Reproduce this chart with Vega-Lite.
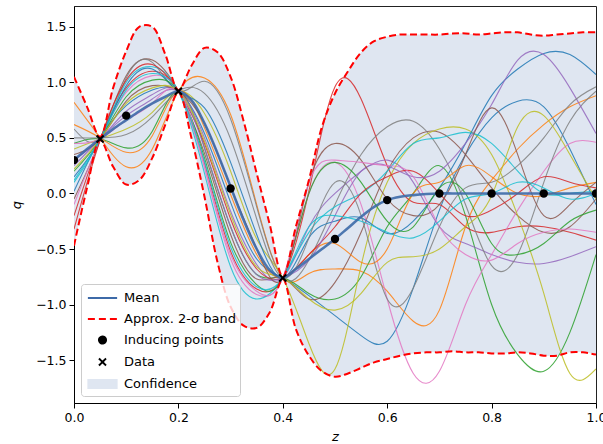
{
"$schema": "https://vega.github.io/schema/vega-lite/v6.json",
"width": 522, "height": 397,
"autosize": {"type": "none"},
"padding": {"left": 74, "top": 6, "right": 7, "bottom": 41},
"background": "white",
"config": {"view": {"stroke": "#222222", "strokeWidth": 1}, "font": "DejaVu Sans"},
"datasets": {
"band": [
{"z":0,"m":0.30,"u":1.05,"l":-0.47},{"z":0.025,"m":0.40,"u":0.78,"l":0.05},{"z":0.05,"m":0.49,"u":0.51,"l":0.48},{"z":0.075,"m":0.58,"u":0.95,"l":0.24},{"z":0.1,"m":0.66,"u":1.28,"l":0.08},{"z":0.125,"m":0.74,"u":1.50,"l":0.12},{"z":0.15,"m":0.81,"u":1.50,"l":0.32},{"z":0.175,"m":0.87,"u":1.25,"l":0.62},{"z":0.2,"m":0.92,"u":0.93,"l":0.91},{"z":0.225,"m":0.84,"u":1.15,"l":0.50},{"z":0.25,"m":0.63,"u":1.31,"l":-0.03},{"z":0.275,"m":0.36,"u":1.27,"l":-0.62},{"z":0.3,"m":0.06,"u":1.05,"l":-1.02},{"z":0.325,"m":-0.24,"u":0.65,"l":-1.19},{"z":0.35,"m":-0.50,"u":0.18,"l":-1.21},{"z":0.375,"m":-0.69,"u":-0.28,"l":-1.07},{"z":0.4,"m":-0.76,"u":-0.75,"l":-0.77},{"z":0.425,"m":-0.68,"u":-0.30,"l":-1.22},{"z":0.45,"m":-0.59,"u":0.12,"l":-1.46},{"z":0.475,"m":-0.50,"u":0.60,"l":-1.60},{"z":0.5,"m":-0.41,"u":0.90,"l":-1.65},{"z":0.525,"m":-0.31,"u":1.10,"l":-1.62},{"z":0.55,"m":-0.21,"u":1.27,"l":-1.57},{"z":0.575,"m":-0.12,"u":1.37,"l":-1.52},{"z":0.6,"m":-0.06,"u":1.41,"l":-1.49},{"z":0.625,"m":-0.03,"u":1.43,"l":-1.46},{"z":0.65,"m":-0.015,"u":1.43,"l":-1.44},{"z":0.675,"m":-0.005,"u":1.43,"l":-1.43},{"z":0.7,"m":0,"u":1.43,"l":-1.43},{"z":0.725,"m":0,"u":1.44,"l":-1.42},{"z":0.75,"m":0,"u":1.44,"l":-1.43},{"z":0.775,"m":0,"u":1.43,"l":-1.43},{"z":0.8,"m":0,"u":1.44,"l":-1.44},{"z":0.825,"m":0,"u":1.45,"l":-1.44},{"z":0.85,"m":0,"u":1.45,"l":-1.43},{"z":0.875,"m":0,"u":1.43,"l":-1.44},{"z":0.9,"m":0,"u":1.42,"l":-1.46},{"z":0.925,"m":0,"u":1.43,"l":-1.46},{"z":0.95,"m":0,"u":1.44,"l":-1.43},{"z":0.975,"m":0,"u":1.45,"l":-1.43},{"z":1,"m":0,"u":1.45,"l":-1.45}
],
"samples": [
{"s":1,"z":0,"q":0.02},{"s":1,"z":0.05,"q":0.49},{"s":1,"z":0.1,"q":0.79},{"s":1,"z":0.15,"q":0.93},{"s":1,"z":0.2,"q":0.92},{"s":1,"z":0.25,"q":0.54},{"s":1,"z":0.3,"q":-0.08},{"s":1,"z":0.35,"q":-0.59},{"s":1,"z":0.4,"q":-0.76},{"s":1,"z":0.45,"q":-0.92},{"s":1,"z":0.5,"q":-1.10},{"s":1,"z":0.55,"q":-1.28},{"s":1,"z":0.6,"q":-1.33},{"s":1,"z":0.65,"q":-0.85},{"s":1,"z":0.7,"q":-0.15},{"s":1,"z":0.75,"q":0.35},{"s":1,"z":0.8,"q":0.68},{"s":1,"z":0.85,"q":0.83},{"s":1,"z":0.9,"q":0.78},{"s":1,"z":0.95,"q":0.40},{"s":1,"z":1,"q":-0.10},
{"s":2,"z":0,"q":0.82},{"s":2,"z":0.05,"q":0.50},{"s":2,"z":0.1,"q":0.24},{"s":2,"z":0.15,"q":0.40},{"s":2,"z":0.2,"q":0.92},{"s":2,"z":0.25,"q":1.04},{"s":2,"z":0.3,"q":0.71},{"s":2,"z":0.35,"q":-0.10},{"s":2,"z":0.4,"q":-0.76},{"s":2,"z":0.45,"q":-0.72},{"s":2,"z":0.5,"q":-0.68},{"s":2,"z":0.55,"q":-0.70},{"s":2,"z":0.6,"q":-0.88},{"s":2,"z":0.65,"q":-1.15},{"s":2,"z":0.7,"q":-1.05},{"s":2,"z":0.75,"q":-0.30},{"s":2,"z":0.8,"q":0.12},{"s":2,"z":0.85,"q":0.40},{"s":2,"z":0.9,"q":0.62},{"s":2,"z":0.95,"q":0.78},{"s":2,"z":1,"q":0.88},
{"s":3,"z":0,"q":0.45},{"s":3,"z":0.05,"q":0.49},{"s":3,"z":0.1,"q":0.41},{"s":3,"z":0.15,"q":0.56},{"s":3,"z":0.2,"q":0.92},{"s":3,"z":0.25,"q":0.41},{"s":3,"z":0.3,"q":-0.30},{"s":3,"z":0.35,"q":-0.73},{"s":3,"z":0.4,"q":-0.76},{"s":3,"z":0.45,"q":-0.90},{"s":3,"z":0.5,"q":-0.95},{"s":3,"z":0.55,"q":-0.75},{"s":3,"z":0.6,"q":-0.30},{"s":3,"z":0.65,"q":0.00},{"s":3,"z":0.7,"q":0.25},{"s":3,"z":0.75,"q":-0.20},{"s":3,"z":0.8,"q":-1.00},{"s":3,"z":0.85,"q":-1.45},{"s":3,"z":0.9,"q":-1.60},{"s":3,"z":0.95,"q":-1.25},{"s":3,"z":1,"q":-0.55},
{"s":4,"z":0,"q":-0.20},{"s":4,"z":0.05,"q":0.48},{"s":4,"z":0.1,"q":0.95},{"s":4,"z":0.15,"q":1.10},{"s":4,"z":0.2,"q":0.92},{"s":4,"z":0.25,"q":0.27},{"s":4,"z":0.3,"q":-0.52},{"s":4,"z":0.35,"q":-0.86},{"s":4,"z":0.4,"q":-0.76},{"s":4,"z":0.45,"q":0.02},{"s":4,"z":0.5,"q":0.96},{"s":4,"z":0.55,"q":0.85},{"s":4,"z":0.6,"q":0.25},{"s":4,"z":0.65,"q":-0.08},{"s":4,"z":0.7,"q":-0.10},{"s":4,"z":0.75,"q":-0.30},{"s":4,"z":0.8,"q":-0.35},{"s":4,"z":0.85,"q":-0.30},{"s":4,"z":0.9,"q":-0.30},{"s":4,"z":0.95,"q":-0.35},{"s":4,"z":1,"q":-0.42},
{"s":5,"z":0,"q":0.25},{"s":5,"z":0.05,"q":0.49},{"s":5,"z":0.1,"q":0.70},{"s":5,"z":0.15,"q":0.85},{"s":5,"z":0.2,"q":0.92},{"s":5,"z":0.25,"q":0.50},{"s":5,"z":0.3,"q":-0.16},{"s":5,"z":0.35,"q":-0.64},{"s":5,"z":0.4,"q":-0.76},{"s":5,"z":0.45,"q":-0.30},{"s":5,"z":0.5,"q":0.00},{"s":5,"z":0.55,"q":0.20},{"s":5,"z":0.6,"q":0.30},{"s":5,"z":0.65,"q":0.10},{"s":5,"z":0.7,"q":-0.30},{"s":5,"z":0.75,"q":-0.45},{"s":5,"z":0.8,"q":-0.55},{"s":5,"z":0.85,"q":-0.62},{"s":5,"z":0.9,"q":-0.63},{"s":5,"z":0.95,"q":-0.57},{"s":5,"z":1,"q":-0.48},
{"s":6,"z":0,"q":-0.05},{"s":6,"z":0.05,"q":0.48},{"s":6,"z":0.1,"q":1.06},{"s":6,"z":0.15,"q":1.20},{"s":6,"z":0.2,"q":0.92},{"s":6,"z":0.25,"q":0.36},{"s":6,"z":0.3,"q":-0.37},{"s":6,"z":0.35,"q":-0.77},{"s":6,"z":0.4,"q":-0.76},{"s":6,"z":0.45,"q":-0.95},{"s":6,"z":0.5,"q":-0.80},{"s":6,"z":0.55,"q":-0.35},{"s":6,"z":0.6,"q":0.20},{"s":6,"z":0.65,"q":0.50},{"s":6,"z":0.7,"q":0.55},{"s":6,"z":0.75,"q":0.35},{"s":6,"z":0.8,"q":0.05},{"s":6,"z":0.85,"q":-0.20},{"s":6,"z":0.9,"q":-0.35},{"s":6,"z":0.95,"q":-0.30},{"s":6,"z":1,"q":-0.05},
{"s":7,"z":0,"q":-0.10},{"s":7,"z":0.05,"q":0.48},{"s":7,"z":0.1,"q":0.91},{"s":7,"z":0.15,"q":1.06},{"s":7,"z":0.2,"q":0.92},{"s":7,"z":0.25,"q":0.23},{"s":7,"z":0.3,"q":-0.59},{"s":7,"z":0.35,"q":-0.91},{"s":7,"z":0.4,"q":-0.76},{"s":7,"z":0.45,"q":0.00},{"s":7,"z":0.5,"q":0.28},{"s":7,"z":0.55,"q":-0.10},{"s":7,"z":0.6,"q":-0.95},{"s":7,"z":0.65,"q":-1.62},{"s":7,"z":0.7,"q":-1.60},{"s":7,"z":0.75,"q":-1.00},{"s":7,"z":0.8,"q":-0.55},{"s":7,"z":0.85,"q":-0.15},{"s":7,"z":0.9,"q":0.20},{"s":7,"z":0.95,"q":0.45},{"s":7,"z":1,"q":0.46},
{"s":8,"z":0,"q":0.58},{"s":8,"z":0.05,"q":0.50},{"s":8,"z":0.1,"q":1.04},{"s":8,"z":0.15,"q":1.18},{"s":8,"z":0.2,"q":0.92},{"s":8,"z":0.25,"q":1.01},{"s":8,"z":0.3,"q":0.67},{"s":8,"z":0.35,"q":-0.12},{"s":8,"z":0.4,"q":-0.76},{"s":8,"z":0.45,"q":-0.60},{"s":8,"z":0.5,"q":-0.10},{"s":8,"z":0.55,"q":0.35},{"s":8,"z":0.6,"q":0.60},{"s":8,"z":0.65,"q":0.65},{"s":8,"z":0.7,"q":0.40},{"s":8,"z":0.75,"q":-0.10},{"s":8,"z":0.8,"q":-0.65},{"s":8,"z":0.85,"q":-0.55},{"s":8,"z":0.9,"q":0.10},{"s":8,"z":0.95,"q":0.65},{"s":8,"z":1,"q":0.92},
{"s":9,"z":0,"q":0.40},{"s":9,"z":0.05,"q":0.49},{"s":9,"z":0.1,"q":0.58},{"s":9,"z":0.15,"q":0.73},{"s":9,"z":0.2,"q":0.92},{"s":9,"z":0.25,"q":0.72},{"s":9,"z":0.3,"q":0.20},{"s":9,"z":0.35,"q":-0.41},{"s":9,"z":0.4,"q":-0.76},{"s":9,"z":0.45,"q":-1.35},{"s":9,"z":0.5,"q":-1.58},{"s":9,"z":0.55,"q":-0.65},{"s":9,"z":0.6,"q":0.10},{"s":9,"z":0.65,"q":0.45},{"s":9,"z":0.7,"q":0.58},{"s":9,"z":0.75,"q":0.58},{"s":9,"z":0.8,"q":0.35},{"s":9,"z":0.85,"q":-0.20},{"s":9,"z":0.9,"q":-0.90},{"s":9,"z":0.95,"q":-1.62},{"s":9,"z":1,"q":-1.58},
{"s":10,"z":0,"q":0.10},{"s":10,"z":0.05,"q":0.49},{"s":10,"z":0.1,"q":1.00},{"s":10,"z":0.15,"q":1.14},{"s":10,"z":0.2,"q":0.92},{"s":10,"z":0.25,"q":0.18},{"s":10,"z":0.3,"q":-0.66},{"s":10,"z":0.35,"q":-0.95},{"s":10,"z":0.4,"q":-0.76},{"s":10,"z":0.45,"q":-0.35},{"s":10,"z":0.5,"q":-0.12},{"s":10,"z":0.55,"q":0.00},{"s":10,"z":0.6,"q":0.20},{"s":10,"z":0.65,"q":0.45},{"s":10,"z":0.7,"q":0.50},{"s":10,"z":0.75,"q":0.55},{"s":10,"z":0.8,"q":0.45},{"s":10,"z":0.85,"q":0.20},{"s":10,"z":0.9,"q":0.00},{"s":10,"z":0.95,"q":0.00},{"s":10,"z":1,"q":0.02},
{"s":11,"z":0,"q":0.15},{"s":11,"z":0.05,"q":0.49},{"s":11,"z":0.1,"q":0.97},{"s":11,"z":0.15,"q":1.12},{"s":11,"z":0.2,"q":0.92},{"s":11,"z":0.25,"q":0.77},{"s":11,"z":0.3,"q":0.28},{"s":11,"z":0.35,"q":-0.37},{"s":11,"z":0.4,"q":-0.76},{"s":11,"z":0.45,"q":-0.40},{"s":11,"z":0.5,"q":-0.25},{"s":11,"z":0.55,"q":-0.22},{"s":11,"z":0.6,"q":-0.36},{"s":11,"z":0.65,"q":-0.25},{"s":11,"z":0.7,"q":0.05},{"s":11,"z":0.75,"q":0.45},{"s":11,"z":0.8,"q":0.88},{"s":11,"z":0.85,"q":1.12},{"s":11,"z":0.9,"q":1.26},{"s":11,"z":0.95,"q":1.25},{"s":11,"z":1,"q":1.07},
{"s":12,"z":0,"q":0.62},{"s":12,"z":0.05,"q":0.50},{"s":12,"z":0.1,"q":0.37},{"s":12,"z":0.15,"q":0.52},{"s":12,"z":0.2,"q":0.92},{"s":12,"z":0.25,"q":0.59},{"s":12,"z":0.3,"q":-0.01},{"s":12,"z":0.35,"q":-0.55},{"s":12,"z":0.4,"q":-0.76},{"s":12,"z":0.45,"q":-0.55},{"s":12,"z":0.5,"q":-0.45},{"s":12,"z":0.55,"q":-0.62},{"s":12,"z":0.6,"q":-0.50},{"s":12,"z":0.65,"q":0.00},{"s":12,"z":0.7,"q":0.10},{"s":12,"z":0.75,"q":0.25},{"s":12,"z":0.8,"q":0.15},{"s":12,"z":0.85,"q":0.00},{"s":12,"z":0.9,"q":-0.02},{"s":12,"z":0.95,"q":0.05},{"s":12,"z":1,"q":0.10},
{"s":13,"z":0,"q":0.20},{"s":13,"z":0.05,"q":0.49},{"s":13,"z":0.1,"q":0.87},{"s":13,"z":0.15,"q":1.02},{"s":13,"z":0.2,"q":0.92},{"s":13,"z":0.25,"q":0.32},{"s":13,"z":0.3,"q":-0.44},{"s":13,"z":0.35,"q":-0.82},{"s":13,"z":0.4,"q":-0.76},{"s":13,"z":0.45,"q":0.00},{"s":13,"z":0.5,"q":0.28},{"s":13,"z":0.55,"q":0.10},{"s":13,"z":0.6,"q":-0.25},{"s":13,"z":0.65,"q":-0.30},{"s":13,"z":0.7,"q":0.05},{"s":13,"z":0.75,"q":0.00},{"s":13,"z":0.8,"q":-0.45},{"s":13,"z":0.85,"q":-0.55},{"s":13,"z":0.9,"q":-0.45},{"s":13,"z":0.95,"q":-0.25},{"s":13,"z":1,"q":-0.15},
{"s":14,"z":0,"q":-0.32},{"s":14,"z":0.05,"q":0.48},{"s":14,"z":0.1,"q":1.02},{"s":14,"z":0.15,"q":1.16},{"s":14,"z":0.2,"q":0.92},{"s":14,"z":0.25,"q":0.45},{"s":14,"z":0.3,"q":-0.23},{"s":14,"z":0.35,"q":-0.68},{"s":14,"z":0.4,"q":-0.76},{"s":14,"z":0.45,"q":-0.55},{"s":14,"z":0.5,"q":-0.30},{"s":14,"z":0.55,"q":0.00},{"s":14,"z":0.6,"q":0.15},{"s":14,"z":0.65,"q":0.20},{"s":14,"z":0.7,"q":0.00},{"s":14,"z":0.75,"q":-0.20},{"s":14,"z":0.8,"q":-0.15},{"s":14,"z":0.85,"q":0.00},{"s":14,"z":0.9,"q":0.15},{"s":14,"z":0.95,"q":0.10},{"s":14,"z":1,"q":0.05},
{"s":15,"z":0,"q":0.30},{"s":15,"z":0.05,"q":0.49},{"s":15,"z":0.1,"q":0.74},{"s":15,"z":0.15,"q":0.89},{"s":15,"z":0.2,"q":0.92},{"s":15,"z":0.25,"q":0.41},{"s":15,"z":0.3,"q":-0.30},{"s":15,"z":0.35,"q":-0.73},{"s":15,"z":0.4,"q":-0.76},{"s":15,"z":0.45,"q":-0.60},{"s":15,"z":0.5,"q":-0.20},{"s":15,"z":0.55,"q":0.20},{"s":15,"z":0.6,"q":0.25},{"s":15,"z":0.65,"q":0.15},{"s":15,"z":0.7,"q":0.20},{"s":15,"z":0.75,"q":0.45},{"s":15,"z":0.8,"q":0.80},{"s":15,"z":0.85,"q":1.20},{"s":15,"z":0.9,"q":1.25},{"s":15,"z":0.95,"q":0.95},{"s":15,"z":1,"q":0.54},
{"s":16,"z":0,"q":0.35},{"s":16,"z":0.05,"q":0.49},{"s":16,"z":0.1,"q":0.83},{"s":16,"z":0.15,"q":0.97},{"s":16,"z":0.2,"q":0.92},{"s":16,"z":0.25,"q":0.63},{"s":16,"z":0.3,"q":0.06},{"s":16,"z":0.35,"q":-0.50},{"s":16,"z":0.4,"q":-0.76},{"s":16,"z":0.45,"q":0.10},{"s":16,"z":0.5,"q":0.45},{"s":16,"z":0.55,"q":0.30},{"s":16,"z":0.6,"q":-0.05},{"s":16,"z":0.65,"q":-0.20},{"s":16,"z":0.7,"q":-0.10},{"s":16,"z":0.75,"q":0.35},{"s":16,"z":0.8,"q":0.77},{"s":16,"z":0.85,"q":0.35},{"s":16,"z":0.9,"q":-0.20},{"s":16,"z":0.95,"q":-0.10},{"s":16,"z":1,"q":0.10},
{"s":17,"z":0,"q":0.45},{"s":17,"z":0.05,"q":0.49},{"s":17,"z":0.1,"q":0.66},{"s":17,"z":0.15,"q":0.81},{"s":17,"z":0.2,"q":0.92},{"s":17,"z":0.25,"q":0.25},{"s":17,"z":0.3,"q":-0.55},{"s":17,"z":0.35,"q":-0.88},{"s":17,"z":0.4,"q":-0.76},{"s":17,"z":0.45,"q":0.10},{"s":17,"z":0.5,"q":0.30},{"s":17,"z":0.55,"q":0.28},{"s":17,"z":0.6,"q":0.25},{"s":17,"z":0.65,"q":0.15},{"s":17,"z":0.7,"q":-0.30},{"s":17,"z":0.75,"q":-0.55},{"s":17,"z":0.8,"q":-0.60},{"s":17,"z":0.85,"q":-0.45},{"s":17,"z":0.9,"q":-0.35},{"s":17,"z":0.95,"q":-0.32},{"s":17,"z":1,"q":-0.35},
{"s":18,"z":0,"q":0.50},{"s":18,"z":0.05,"q":0.50},{"s":18,"z":0.1,"q":0.53},{"s":18,"z":0.15,"q":0.69},{"s":18,"z":0.2,"q":0.92},{"s":18,"z":0.25,"q":0.90},{"s":18,"z":0.3,"q":0.49},{"s":18,"z":0.35,"q":-0.23},{"s":18,"z":0.4,"q":-0.76},{"s":18,"z":0.45,"q":-0.40},{"s":18,"z":0.5,"q":0.10},{"s":18,"z":0.55,"q":-0.20},{"s":18,"z":0.6,"q":-0.95},{"s":18,"z":0.65,"q":-0.85},{"s":18,"z":0.7,"q":-0.30},{"s":18,"z":0.75,"q":0.05},{"s":18,"z":0.8,"q":0.10},{"s":18,"z":0.85,"q":0.25},{"s":18,"z":0.9,"q":0.50},{"s":18,"z":0.95,"q":0.80},{"s":18,"z":1,"q":0.96},
{"s":19,"z":0,"q":0.22},{"s":19,"z":0.05,"q":0.49},{"s":19,"z":0.1,"q":0.81},{"s":19,"z":0.15,"q":0.95},{"s":19,"z":0.2,"q":0.92},{"s":19,"z":0.25,"q":0.47},{"s":19,"z":0.3,"q":-0.19},{"s":19,"z":0.35,"q":-0.66},{"s":19,"z":0.4,"q":-0.76},{"s":19,"z":0.45,"q":-0.95},{"s":19,"z":0.5,"q":-1.05},{"s":19,"z":0.55,"q":-0.90},{"s":19,"z":0.6,"q":-0.62},{"s":19,"z":0.65,"q":-0.57},{"s":19,"z":0.7,"q":-0.50},{"s":19,"z":0.75,"q":-0.30},{"s":19,"z":0.8,"q":-0.02},{"s":19,"z":0.85,"q":0.60},{"s":19,"z":0.9,"q":0.70},{"s":19,"z":0.95,"q":0.35},{"s":19,"z":1,"q":-0.05},
{"s":20,"z":0,"q":0.12},{"s":20,"z":0.05,"q":0.49},{"s":20,"z":0.1,"q":0.93},{"s":20,"z":0.15,"q":1.08},{"s":20,"z":0.2,"q":0.92},{"s":20,"z":0.25,"q":0.29},{"s":20,"z":0.3,"q":-0.48},{"s":20,"z":0.35,"q":-0.84},{"s":20,"z":0.4,"q":-0.76},{"s":20,"z":0.45,"q":-0.30},{"s":20,"z":0.5,"q":-0.20},{"s":20,"z":0.55,"q":-0.25},{"s":20,"z":0.6,"q":-0.35},{"s":20,"z":0.65,"q":-0.40},{"s":20,"z":0.7,"q":-0.25},{"s":20,"z":0.75,"q":-0.05},{"s":20,"z":0.8,"q":0.00},{"s":20,"z":0.85,"q":0.10},{"s":20,"z":0.9,"q":0.05},{"s":20,"z":0.95,"q":-0.05},{"s":20,"z":1,"q":0.00}
],
"ind": [{"z":0,"q":0.30},{"z":0.1,"q":0.70},{"z":0.3,"q":0.045},{"z":0.5,"q":-0.41},{"z":0.6,"q":-0.06},{"z":0.7,"q":0},{"z":0.8,"q":0},{"z":0.9,"q":0},{"z":1,"q":0}],
"obs": [{"z":0.05,"q":0.49},{"z":0.2,"q":0.92},{"z":0.4,"q":-0.76}],
"leg": []
},
"encoding": {
  "x": {"field": "z", "type": "quantitative", "scale": {"domain": [0, 1], "nice": false, "zero": false},
        "axis": {"values": [0, 0.2, 0.4, 0.6, 0.8, 1.0], "format": ".1f", "grid": false, "title": "z", "titleFontStyle": "italic", "titleFontWeight": "normal", "titleFontSize": 13, "titlePadding": 7, "labelFontSize": 12.5, "labelColor": "#000", "tickColor": "#000", "domainColor": "#000", "tickSize": 5, "labelPadding": 3, "labelFlush": false}},
  "y": {"type": "quantitative", "scale": {"domain": [-1.886, 1.687], "nice": false, "zero": false},
        "axis": {"values": [-1.5, -1.0, -0.5, 0, 0.5, 1.0, 1.5], "format": ".1f", "grid": false, "title": "q", "titleFontStyle": "italic", "titleFontWeight": "normal", "titleFontSize": 13, "titlePadding": 12, "labelFontSize": 12.5, "labelColor": "#000", "tickColor": "#000", "domainColor": "#000", "tickSize": 5, "labelPadding": 3}}
},
"layer": [
  {"data": {"name": "band"}, "mark": {"type": "area", "color": "#dfe6f1", "opacity": 1, "interpolate": "catmull-rom", "clip": true},
   "encoding": {"y": {"field": "l", "type": "quantitative"}, "y2": {"field": "u"}}},
  {"data": {"name": "samples"}, "mark": {"type": "line", "strokeWidth": 1.1, "opacity": 0.85, "interpolate": "natural", "clip": true},
   "encoding": {"y": {"field": "q", "type": "quantitative"},
     "color": {"field": "s", "type": "nominal", "legend": null,
       "scale": {"domain": [1,2,3,4,5,6,7,8,9,10,11,12,13,14,15,16,17,18,19,20],
         "range": ["#1f77b4","#ff7f0e","#2ca02c","#d62728","#9467bd","#8c564b","#e377c2","#7f7f7f","#bcbd22","#17becf","#1f77b4","#ff7f0e","#2ca02c","#d62728","#9467bd","#8c564b","#e377c2","#7f7f7f","#bcbd22","#17becf"]}}}},
  {"data": {"name": "band"}, "mark": {"type": "line", "strokeWidth": 2.6, "opacity": 0.9, "color": "#3d6aa8", "interpolate": "catmull-rom", "clip": true},
   "encoding": {"y": {"field": "m", "type": "quantitative"}}},
  {"data": {"name": "band"}, "mark": {"type": "line", "color": "#ff0000", "strokeWidth": 2, "strokeDash": [7, 3.5], "interpolate": "catmull-rom", "clip": true},
   "encoding": {"y": {"field": "u", "type": "quantitative"}}},
  {"data": {"name": "band"}, "mark": {"type": "line", "color": "#ff0000", "strokeWidth": 2, "strokeDash": [7, 3.5], "interpolate": "catmull-rom", "clip": true},
   "encoding": {"y": {"field": "l", "type": "quantitative"}}},
  {"data": {"name": "ind"}, "mark": {"type": "point", "shape": "circle", "filled": true, "color": "#000000", "size": 70, "opacity": 1, "clip": true},
   "encoding": {"y": {"field": "q", "type": "quantitative"}}},
  {"data": {"name": "obs"}, "mark": {"type": "point", "shape": "M-1,-1L1,1M-1,1L1,-1", "filled": false, "color": "#000000", "strokeWidth": 2, "size": 50, "opacity": 1, "clip": true},
   "encoding": {"y": {"field": "q", "type": "quantitative"}}},
  {"data": {"name": "leg"}, "mark": {"type": "point", "opacity": 1, "strokeWidth": 2},
   "encoding": {
     "y": {"field": "q", "type": "quantitative"},
     "shape": {"field": "k", "type": "nominal",
       "scale": {"domain": ["Mean", "Approx. 2-σ band", "Inducing points", "Data", "Confidence"],
                 "range": ["M-1.5,0H1.5", "M-1.5,0H1.5", "M-0.36,0A0.36,0.36 0 1,0 0.36,0A0.36,0.36 0 1,0 -0.36,0Z", "M-0.36,-0.36L0.36,0.36M-0.36,0.36L0.36,-0.36", "M-1.45,-0.42H1.45V0.42H-1.45Z"]},
       "legend": {"title": null, "orient": "bottom-left", "offset": 7, "padding": 3,
         "fillColor": "rgba(255,255,255,0.8)", "strokeColor": "#cccccc", "cornerRadius": 3,
         "labelFont": "DejaVu Sans", "labelFontSize": 13, "labelColor": "#000",
         "symbolSize": 380, "symbolStrokeWidth": 2, "symbolOffset": 7.5, "labelOffset": 10.5, "rowPadding": 3, "symbolOpacity": 1}},
     "fill": {"field": "k", "type": "nominal",
       "scale": {"domain": ["Mean", "Approx. 2-σ band", "Inducing points", "Data", "Confidence"],
                 "range": ["transparent", "transparent", "#000000", "transparent", "#dfe6f1"]}},
     "stroke": {"field": "k", "type": "nominal",
       "scale": {"domain": ["Mean", "Approx. 2-σ band", "Inducing points", "Data", "Confidence"],
                 "range": ["#3d6aa8", "#ff0000", "#000000", "#000000", "#dfe6f1"]}},
     "strokeDash": {"field": "k", "type": "nominal",
       "scale": {"domain": ["Mean", "Approx. 2-σ band", "Inducing points", "Data", "Confidence"],
                 "range": [[1, 0], [7, 4], [1, 0], [1, 0], [1, 0]]}}
   }}
]
}
